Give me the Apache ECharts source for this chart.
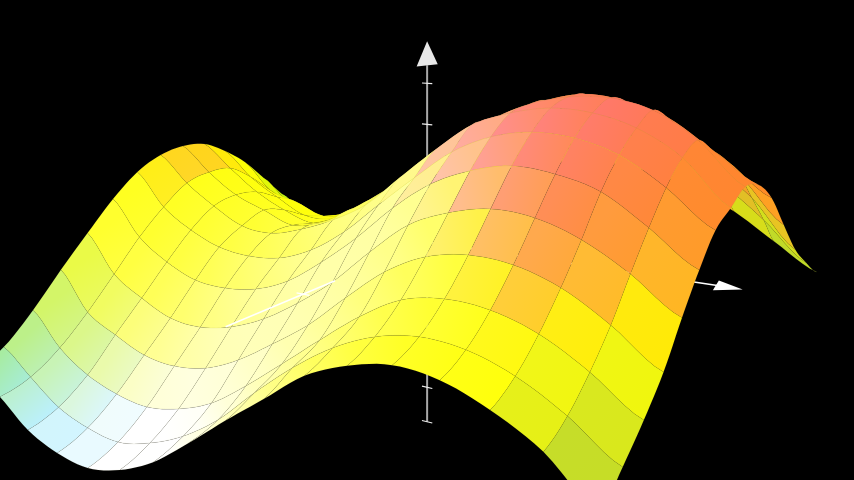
<!DOCTYPE html>
<html><head><meta charset="utf-8"><style>html,body{margin:0;padding:0;background:#000}#c{width:854px;height:480px}</style>
<script src="https://cdn.jsdelivr.net/npm/echarts@6/dist/echarts.min.js"></script></head><body><div id="c"></div>
<script>
// Surface heights in z-axis units: one row per grid line, near edge first.
const row00=[-3.24,-3.72,-4.41,-4.79,-4.93,-4.70,-4.21,-3.45,-2.64,-1.88,-1.12,-0.68,-0.45,-0.54,-0.91,-1.49,-2.46];
const row01=[-2.84,-3.49,-4.12,-4.46,-4.60,-4.36,-3.91,-3.23,-2.31,-1.48,-0.81,-0.36,-0.16,-0.23,-0.56,-1.14,-1.91];
const row02=[-2.06,-2.96,-3.53,-3.85,-3.98,-3.79,-3.39,-2.70,-1.92,-1.13,-0.39,0.17,0.37,0.31,0.00,-0.58,-1.33];
const row03=[-1.15,-2.21,-2.68,-3.06,-3.16,-3.00,-2.56,-1.93,-1.25,-0.40,0.38,0.88,1.07,1.01,0.69,0.09,-0.68];
const row04=[-0.31,-1.36,-1.89,-2.29,-2.36,-2.16,-1.75,-1.15,-0.43,0.46,1.24,1.65,1.86,1.79,1.46,0.89,0.15];
const row05=[0.48,-0.51,-1.09,-1.46,-1.52,-1.38,-0.99,-0.33,0.44,1.31,2.00,2.41,2.62,2.54,2.27,1.63,0.89];
const row06=[1.09,0.17,-0.38,-0.74,-0.85,-0.76,-0.39,0.24,1.07,1.86,2.58,3.02,3.21,3.16,2.88,2.28,1.50];
const row07=[1.43,0.69,0.12,-0.34,-0.42,-0.17,0.22,0.75,1.58,2.38,3.08,3.43,3.61,3.57,3.31,2.75,1.77];
const row08=[1.54,0.84,0.26,-0.08,-0.40,-0.18,0.35,0.97,1.66,2.38,3.06,3.51,3.74,3.78,3.57,2.98,2.04];
const row09=[1.45,0.79,0.16,-0.28,-0.55,-0.24,0.29,1.00,1.84,2.53,3.10,3.48,3.69,3.58,3.26,2.60,1.90];
const row10=[1.07,0.34,-0.19,-0.64,-0.63,-0.26,0.30,1.02,1.60,2.17,2.73,3.11,3.30,3.12,2.79,2.20,1.41];
const row11=[0.55,-0.27,-0.54,-0.87,-0.65,-0.06,0.59,1.13,1.60,2.08,2.51,2.77,2.84,2.66,2.32,1.67,0.55];
const row12=[-0.16,-0.89,-1.24,-1.01,-0.50,0.15,0.66,1.11,1.50,1.87,2.15,2.31,2.25,2.08,1.65,0.91,-0.30];
const row13=[-0.89,-1.50,-1.48,-1.02,-0.40,0.13,0.48,0.80,1.10,1.43,1.57,1.69,1.70,1.46,0.95,0.13,-0.88];
const row14=[-1.58,-1.81,-1.48,-0.84,-0.23,0.11,0.31,0.47,0.69,0.91,1.01,1.02,0.83,0.51,0.02,-0.69,-1.37];
const heights=[row00,row01,row02,row03,row04,row05,row06,row07,row08,row09,row10,row11,row12,row13,row14];
const zTicks=[-5,-4,-3,-2,-1,1,2,3,4];

const P={x0:-27,xt:246.6,xw:430.2,y0:254.3,yt:-19.3,yw:6.2,wt:.2,ww:-.328,b3:-40.4,c3:-.011};
const T0=.875,W0=.549,NR=heights.length-1,NC=heights[0].length-1,TMAX=NR/8;
const ground=(t,w)=>({X:P.x0+P.xt*t+P.xw*w,Y:P.y0+P.yt*t+P.yw*w,W:1+P.wt*t+P.ww*w});
function project(t,w,h){const g=ground(t,w);return [g.X/g.W,(g.Y+P.b3*h)/(g.W+P.c3*h)];}
const stops=[[-.3,255,255,0],[.1,255,235,0],[.5,255,200,24],[1.2,255,168,32],[2,255,140,36],[2.8,255,128,50],[3.6,255,120,72]];
function ramp(v){if(v<=stops[0][0])return stops[0].slice(1);for(let i=1;i<stops.length;i++){if(v<=stops[i][0]){const a=stops[i-1],b=stops[i],f=(v-a[0])/(b[0]-a[0]);return [1,2,3].map(k=>a[k]+(b[k]-a[k])*f);}}return stops[stops.length-1].slice(1);}
const clamp01=x=>Math.max(0,Math.min(1,x));
function offset(w){if(w<.12)return -.8;if(w<.5)return -1.25-.65*w/.5;if(w<.67)return -1.9;return -1.9+1.9*clamp01((w-.67)/.18);}
const greenL=[150,232,20],greenR=[176,208,50];
function cornerShade(t,w){
 const a=Math.hypot(t/.55,w/.28),b=Math.hypot(t/.4,(1-w)/.14),far=(TMAX-t)/.45,c=Math.hypot(far,w/.2),d=Math.hypot(far,(1-w)/.2);
 return {q:clamp01(1-Math.min(a,b,c,d)),g:(w<.5?greenL:greenR)};
}
function wash(t,w){const g1=1.1*Math.exp(-Math.pow(t/.42,2)-Math.pow((w-.25)/.3,2));const sw=w<.55?.4:.25;const g2=.6*Math.exp(-Math.pow((t-.65)/.5,2)-Math.pow((w-.55)/sw,2));return Math.min(1,g1+g2);}
const cells=[];for(let r=0;r<NR;r++)for(let c=0;c<NC;c++)cells.push([r,c]);
cells.sort((a,b)=>ground((b[0]+.5)/8,(b[1]+.5)/16).W-ground((a[0]+.5)/8,(a[1]+.5)/16).W);
const cr=(a,b,c,d,s)=>.5*(2*b+(c-a)*s+(2*a-5*b+4*c-d)*s*s+(3*b-a-3*c+d)*s*s*s);
const hAt=(r,c)=>heights[Math.max(0,Math.min(NR,r))][Math.max(0,Math.min(NC,c))];
const alongC=(r,c,s)=>cr(hAt(r,c-1),hAt(r,c),hAt(r,c+1),hAt(r,c+2),s);
const alongR=(r,c,s)=>cr(hAt(r-1,c),hAt(r,c),hAt(r+1,c),hAt(r+2,c),s);
const chart=echarts.init(document.getElementById('c'),null,{renderer:'canvas'});
function col(base,b){return `rgb(${Math.round(base[0])},${Math.round(base[1])},${Math.round(Math.min(255,base[2]+b*255))})`;}
const seg=(a,b,st)=>({type:'line',shape:{x1:a[0],y1:a[1],x2:b[0],y2:b[1]},style:st});
function axesItem(params,api){
 const co=(t,w,h)=>api.coord(project(t,w,h));const kids=[];
 const gray={stroke:'#a8a8a8',lineWidth:2};const tk={stroke:'#eee',lineWidth:1.2};
 kids.push(seg(co(T0,W0,-5),co(T0,W0,4.43),gray));
 zTicks.forEach(z=>kids.push(seg(co(T0,W0-.009,z),co(T0,W0+.009,z),tk)));
 kids.push({type:'polygon',shape:{points:[co(T0,W0,5),co(T0,W0-.0184,4.39),co(T0,W0+.0184,4.47)]},style:{fill:'#e8e8e8'}});
 kids.push(seg(co(T0,W0,0),co(T0,.985,0),{stroke:'#fff',lineWidth:1.5}));
 kids.push({type:'polygon',shape:{points:[co(T0,1.015,0),co(T0+.025,.981,.06),co(T0-.025,.981,-.06)]},style:{fill:'#fff'}});
 return {type:'group',children:kids};
}
function overlayItem(params,api){
 const co=(t,w,h)=>api.coord(project(t,w,h));
 return {type:'group',children:[seg(co(.365,W0,0),co(-.12,W0,0),{stroke:'#fff',lineWidth:1.5}),seg(co(.211,W0-.0105,0),co(.211,W0+.0105,0),{stroke:'#fff',lineWidth:1.2})]};
}
const STEPS=6;
function cellItem(params,api){
 const r=api.value(0),c=api.value(1);
 const raw=[];
 for(let i=0;i<STEPS;i++){const s=i/STEPS;raw.push([r/8,(c+s)/16,alongC(r,c,s)]);}
 for(let i=0;i<STEPS;i++){const s=i/STEPS;raw.push([(r+s)/8,(c+1)/16,alongR(r,c+1,s)]);}
 for(let i=0;i<STEPS;i++){const s=i/STEPS;raw.push([(r+1)/8,(c+1-s)/16,alongC(r+1,c,1-s)]);}
 for(let i=0;i<STEPS;i++){const s=i/STEPS;raw.push([(r+1-s)/8,c/16,alongR(r,c,1-s)]);}
 const pts=raw.map(p=>api.coord(project(p[0],p[1],p[2])));
 const idx=[[r,c],[r,c+1],[r+1,c+1],[r+1,c]];
 const mean=idx.reduce((s,p)=>s+heights[p[0]][p[1]],0)/4;
 const w=(c+.5)/16,t=(r+.5)/8;
 const sh=cornerShade(t,w);
 const base=ramp(mean+offset(w)).map((x,k)=>x+(sh.g[k]-x)*sh.q);
 const A=api.coord(project(t,c/16,hAt(r,c))),B=api.coord(project(t,(c+1)/16,hAt(r,c+1)));
 const fill=new echarts.graphic.LinearGradient(A[0],A[1],B[0],B[1],[{offset:0,color:col(base,wash(t,c/16))},{offset:1,color:col(base,wash(t,(c+1)/16))}],true);
 return {type:'polygon',shape:{points:pts},style:{fill:fill,stroke:'rgba(130,130,70,.1)',lineWidth:.7}};
}
chart.setOption({backgroundColor:'#000',animation:false,
 grid:{left:0,right:0,top:0,bottom:0},
 xAxis:{type:'value',min:0,max:854,show:false},
 yAxis:{type:'value',min:0,max:480,inverse:true,show:false},
 series:[
  {type:'custom',coordinateSystem:'cartesian2d',data:[[0]],renderItem:axesItem,silent:true,z:1},
  {type:'custom',coordinateSystem:'cartesian2d',data:cells,renderItem:cellItem,silent:true,z:2},
  {type:'custom',coordinateSystem:'cartesian2d',data:[[0]],renderItem:overlayItem,silent:true,z:3}
 ]});
</script></body></html>
